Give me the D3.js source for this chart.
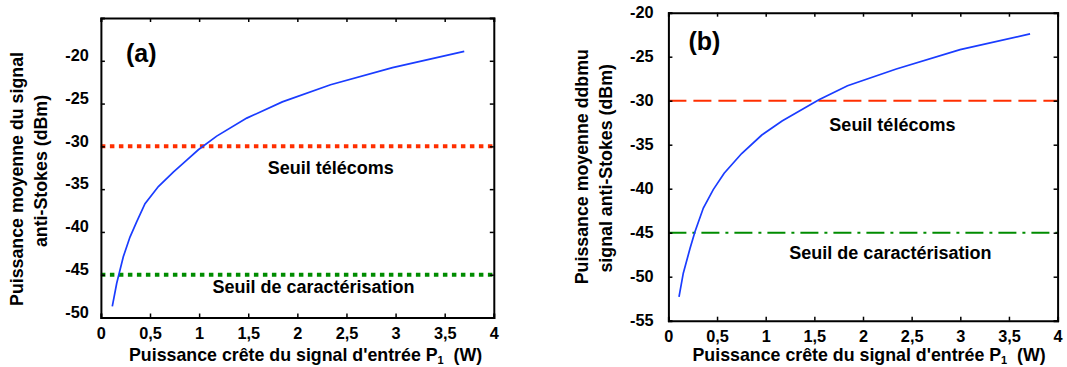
<!DOCTYPE html>
<html><head><meta charset="utf-8">
<script src="https://cdn.jsdelivr.net/npm/d3@7"></script>
<style>
html,body{margin:0;padding:0;background:#fff;}
svg text{font-family:"Liberation Sans",Arial,sans-serif;font-weight:bold;fill:#000;}
</style></head>
<body>
<svg id="chart" width="1067" height="367"></svg>
<script>
// ---- Data ----
const xTickValues = [0, 0.5, 1, 1.5, 2, 2.5, 3, 3.5, 4];
const xTickLabels = ["0", "0,5", "1", "1,5", "2", "2,5", "3", "3,5", "4"];
const yTicksA = [-50, -45, -40, -35, -30, -25, -20];
const yTicksB = [-55, -50, -45, -40, -35, -30, -25, -20];

const powerA = [0.116, 0.161, 0.228, 0.296, 0.365, 0.449, 0.585, 0.737, 0.874, 0.992, 1.179, 1.485, 1.847, 2.338, 2.969, 3.699];
const signalA = [-48.7, -46.0, -42.9, -40.6, -38.8, -36.7, -34.7, -33.0, -31.6, -30.4, -28.8, -26.7, -24.8, -22.8, -20.8, -18.9];

const powerB = [0.109, 0.153, 0.222, 0.273, 0.359, 0.461, 0.573, 0.753, 0.96, 1.168, 1.547, 1.841, 2.342, 2.998, 3.717];
const signalB = [-52.3, -49.6, -46.8, -44.9, -42.2, -40.1, -38.25, -36.0, -33.9, -32.3, -29.9, -28.3, -26.4, -24.2, -22.4];

const thresholdTelecom = -30;
const thresholdCharac = -45;
const labelTelecom = "Seuil télécoms";
const labelCharac = "Seuil de caractérisation";
const xTitle = "Puissance crête du signal d'entrée P";
const yTitleA = ["Puissance moyenne du signal", "anti-Stokes (dBm)"];
const yTitleB = ["Puissance moyenne ddbmu", "signal anti-Stokes (dBm)"];

const svg = d3.select("#chart");

function panel(cfg) {
  const x = d3.scaleLinear().domain([0, 4]).range([cfg.left, cfg.right]);
  const y = d3.scaleLinear().domain(cfg.yDomain).range([cfg.bottom, cfg.top]);
  const g = svg.append("g");

  // threshold lines
  g.append("line").attr("x1", x(0)).attr("x2", x(4))
    .attr("y1", y(thresholdTelecom)).attr("y2", y(thresholdTelecom))
    .attr("stroke", "#ff2f00").attr("stroke-width", cfg.telW)
    .attr("stroke-dasharray", cfg.telDash);
  g.append("line").attr("x1", x(0)).attr("x2", x(4))
    .attr("y1", y(thresholdCharac)).attr("y2", y(thresholdCharac))
    .attr("stroke", "#008c00").attr("stroke-width", cfg.carW)
    .attr("stroke-dasharray", cfg.carDash);

  // curve
  const pts = cfg.px.map((p, i) => [p, cfg.py[i]]);
  g.append("path").datum(pts)
    .attr("d", d3.line().x(d => x(d[0])).y(d => y(d[1])))
    .attr("fill", "none").attr("stroke", "#1a3cff").attr("stroke-width", 1.7);

  // axes
  const fmt = v => xTickLabels[xTickValues.indexOf(v)];
  const ax = g.append("g").attr("transform", `translate(0,${cfg.bottom})`)
    .call(d3.axisBottom(x).tickValues(xTickValues).tickFormat(fmt).tickSize(-4).tickPadding(cfg.xPad));
  const ay = g.append("g").attr("transform", `translate(${cfg.left},0)`)
    .call(d3.axisLeft(y).tickValues(cfg.yTicks).tickFormat(d => String(d)).tickSize(-4).tickPadding(cfg.yPad));
  const at = g.append("g").attr("transform", `translate(0,${cfg.top})`)
    .call(d3.axisTop(x).tickValues(xTickValues).tickFormat("").tickSize(-4));
  const ar = g.append("g").attr("transform", `translate(${cfg.right},0)`)
    .call(d3.axisRight(y).tickValues(cfg.yTicks).tickFormat("").tickSize(-4));
  [ax, ay, at, ar].forEach(a => {
    a.select(".domain").attr("stroke", "#000").attr("stroke-width", 2);
    a.selectAll(".tick line").attr("stroke", "#000").attr("stroke-width", 1.5);
    a.selectAll("text").style("font-family", '"Liberation Sans",Arial,sans-serif')
      .style("font-weight", "bold").style("font-size", "16.3px").attr("fill", "#000");
  });
  ay.selectAll(".tick text").attr("dy", cfg.yLabDy);

  // panel letter
  g.append("text").attr("x", cfg.letterX).attr("y", cfg.letterY).attr("text-anchor", "middle")
    .style("font-size", "25px").text(cfg.letter);

  // threshold labels
  g.append("text").attr("x", cfg.telX).attr("y", cfg.telY).attr("text-anchor", "middle")
    .style("font-size", "18px").text(labelTelecom);
  g.append("text").attr("x", cfg.carX).attr("y", cfg.carY).attr("text-anchor", "middle")
    .style("font-size", "18px").text(labelCharac);

  // x title
  const xt = g.append("text").attr("x", cfg.xtX).attr("y", cfg.xtY).attr("text-anchor", "middle")
    .style("font-size", "17.8px");
  xt.append("tspan").text(xTitle);
  xt.append("tspan").attr("dy", 3).style("font-size", "11px").text("1");
  xt.append("tspan").attr("dy", -3).text("\u00a0\u00a0(W)");

  // y title
  cfg.yTitle.forEach((t, i) => {
    g.append("text")
      .attr("transform", `translate(${cfg.ytX[i]},${cfg.ytY[i]}) rotate(-90)`)
      .attr("text-anchor", "middle").style("font-size", "17.8px").text(t);
  });
}

panel({
  left: 100.9, right: 493.8, top: 18, bottom: 317.5, yDomain: [-50, -15], yTicks: yTicksA,
  px: powerA, py: signalA,
  telW: 4, telDash: "4.5,4.5", carW: 4, carDash: "4.5,4.5",
  xPad: 10, yPad: 12, yLabDy: "-0.02em",
  letter: "(a)", letterX: 141.2, letterY: 61.5,
  telX: 330.7, telY: 174.3, carX: 313.5, carY: 292.7,
  xtX: 305.6, xtY: 361.3,
  yTitle: yTitleA, ytX: [23, 47.2], ytY: [179, 171]
});

panel({
  left: 668.4, right: 1057.6, top: 12.7, bottom: 320.7, yDomain: [-55, -20], yTicks: yTicksB,
  px: powerB, py: signalB,
  telW: 2, telDash: "18,7", carW: 2, carDash: "18,6,3,6",
  xPad: 10, yPad: 14.8, yLabDy: "0.32em",
  letter: "(b)", letterX: 704.4, letterY: 49.8,
  telX: 892.4, telY: 130.7, carX: 890.4, carY: 259.3,
  xtX: 869.1, xtY: 361.3,
  yTitle: yTitleB, ytX: [588, 611.5], ytY: [166.7, 168.3]
});
</script>
</body></html>
